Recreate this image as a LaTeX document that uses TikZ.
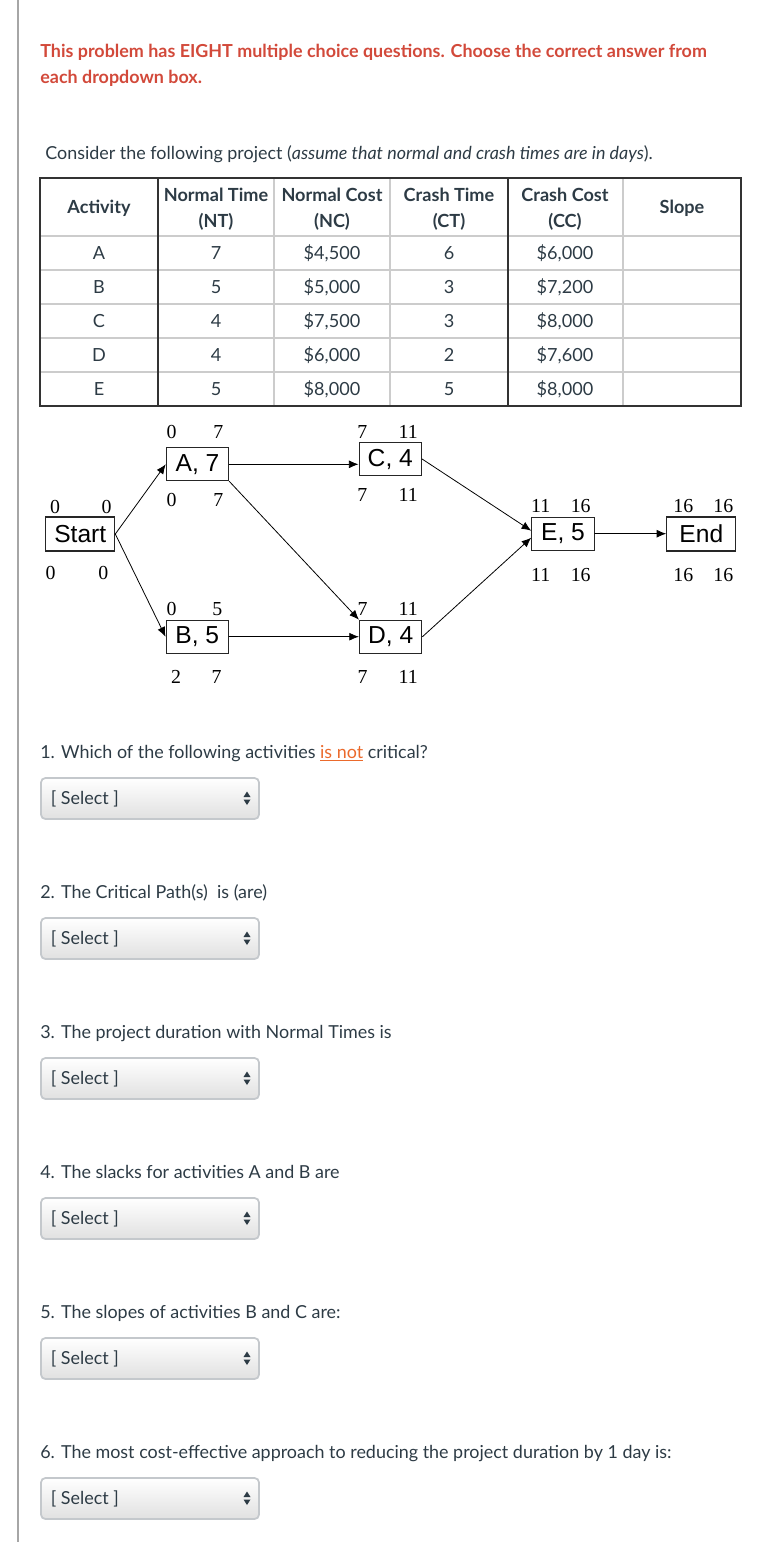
\documentclass[tikz,border=0pt]{standalone}
\usepackage{fontspec}
\setmainfont{Lato}
\newfontfamily\arialfont{Liberation Sans}
\newfontfamily\timesfont{Liberation Serif}
\usetikzlibrary{arrows.meta}

\begin{document}
\begin{tikzpicture}[x=0.02cm, y=-0.02cm, line cap=round,
  txt/.style={text=inkgray, inner sep=0pt, anchor=base west, font=\fontsize{10.2}{12}\selectfont},
  cell/.style={text=inkgray, inner sep=0pt, anchor=base, font=\fontsize{10.3}{12}\selectfont},
  hcell/.style={cell, font=\fontsize{10.3}{12}\selectfont\bfseries},
  tabline/.style={gridgray, line width=1.1pt},
  act/.style={draw=black!85, fill=white, line width=0.6pt, minimum width=1.25cm, minimum height=0.66cm,
              inner sep=0pt, font=\arialfont\fontsize{14}{14}\selectfont},
  wideact/.style={act, minimum width=1.38cm, minimum height=0.68cm},
  num/.style={inner sep=0pt, font=\timesfont\fontsize{11.3}{11}\selectfont},
  link/.style={-{Latex[length=5.5pt,width=4.5pt]}, line width=0.45pt},
  selbox/.style={draw=boxgray, line width=1pt, rounded corners=2.5pt, top color=white, bottom color=black!12,
                 minimum width=4.36cm, minimum height=0.82cm, inner sep=0pt}]
  \definecolor{inkgray}{HTML}{2D3B45}
  \definecolor{gridgray}{HTML}{CCCCCC}
  \definecolor{boxgray}{HTML}{C4C8CC}
  \definecolor{warnred}{HTML}{D2493A}
  \definecolor{notorange}{HTML}{EB6A2C}
  \useasboundingbox (0,0) rectangle (762,1542);
  % page rule
  \draw[black!35, line width=1.2pt] (18,0) -- (18,1542);
  % heading
  \node[txt, text=warnred, align=left, font=\fontsize{10.2}{14.74}\selectfont\bfseries] (intro) at (40,83)
    {This problem has EIGHT multiple choice questions. Choose the correct answer from\\each dropdown box.};
  \node[txt] (consider) at (45,159)
    {Consider the following project (\textit{assume that normal and crash times are in days}).};
  % table grid
  \foreach \y in {236,270,304,338,372} \draw[tabline] (40,\y) -- (741,\y);
  \foreach \x in {274,390,623} \draw[tabline] (\x,178) -- (\x,406);
  \foreach \x in {158,508} \draw[black!80, line width=0.6pt] (\x,178) -- (\x,406);
  \draw[black!80, line width=1.1pt] (40,178) rectangle (741,406);
  % table head
  \node[hcell] (h-act) at (99,213) {Activity};
  \node[hcell] (h-nt) at (216,201) {Normal Time};
  \node[hcell] (h-nt2) at (216,227) {(NT)};
  \node[hcell] (h-nc) at (332,201) {Normal Cost};
  \node[hcell] (h-nc2) at (332,227) {(NC)};
  \node[hcell] (h-ct) at (449,201) {Crash Time};
  \node[hcell] (h-ct2) at (449,227) {(CT)};
  \node[hcell] (h-cc) at (565,201) {Crash Cost};
  \node[hcell] (h-cc2) at (565,227) {(CC)};
  \node[hcell] (h-sl) at (682,213) {Slope};
  % table rows
  \foreach \act/\nt/\nc/\ct/\cc [count=\i] in {A/7/\$4{,}500/6/\$6{,}000, B/5/\$5{,}000/3/\$7{,}200,
      C/4/\$7{,}500/3/\$8{,}000, D/4/\$6{,}000/2/\$7{,}600, E/5/\$8{,}000/5/\$8{,}000} {
    \node[cell] (r\i-act) at (99,{225+34*\i}) {\act};
    \node[cell] (r\i-nt) at (216,{225+34*\i}) {\nt};
    \node[cell] (r\i-nc) at (332,{225+34*\i}) {\nc};
    \node[cell] (r\i-ct) at (449,{225+34*\i}) {\ct};
    \node[cell] (r\i-cc) at (565,{225+34*\i}) {\cc};
  }
  % network
  \node[wideact] (start) at (80.3,534) {Start};
  \node[act] (a) at (197.5,464.3) {A, 7};
  \node[act] (c) at (390.3,459) {C, 4};
  \node[act] (b) at (197.3,636.7) {B, 5};
  \node[act] (d) at (390.7,636.7) {D, 4};
  \node[act] (e) at (563,533.7) {E, 5};
  \node[wideact] (fin) at (701.3,534) {End};
  \draw[link] (start.east) -- (a.west);
  \draw[link] (start.east) -- (b.west);
  \draw[link] (a.east) -- (a.east -| c.west);
  \draw[link] (a.south east) -- (d.north west);
  \draw[link] (b.east) -- (b.east -| d.west);
  \draw[link] (c.east) -- ([yshift=0.06cm]e.west);
  \draw[link] (d.east) -- ([yshift=-0.08cm]e.west);
  \draw[link] (e.east) -- (e.east -| fin.west);
  % early / late times
  \node[num] (start-es) at (55,506.7) {0};
  \node[num] (start-ef) at (106.7,506.7) {0};
  \node[num] (start-ls) at (50.7,573.3) {0};
  \node[num] (start-lf) at (103.3,573.3) {0};
  \node[num] (a-es) at (171.7,431.7) {0};
  \node[num] (a-ef) at (218.3,431.7) {7};
  \node[num] (a-ls) at (171.7,500) {0};
  \node[num] (a-lf) at (218.3,500) {7};
  \node[num] (c-es) at (362.3,431.7) {7};
  \node[num] (c-ef) at (408.3,431.7) {11};
  \node[num] (c-ls) at (362.3,495) {7};
  \node[num] (c-lf) at (408.3,495) {11};
  \node[num] (b-es) at (171.7,609.3) {0};
  \node[num] (b-ef) at (217.3,609.3) {5};
  \node[num] (b-ls) at (176,677.3) {2};
  \node[num] (b-lf) at (216.7,677.3) {7};
  \node[num] (d-es) at (362.7,609.3) {7};
  \node[num] (d-ef) at (408.3,609.3) {11};
  \node[num] (d-ls) at (362.7,677.3) {7};
  \node[num] (d-lf) at (408.3,677.3) {11};
  \node[num] (e-es) at (540.7,506) {11};
  \node[num] (e-ef) at (580.7,506) {16};
  \node[num] (e-ls) at (540.7,575) {11};
  \node[num] (e-lf) at (580.7,575) {16};
  \node[num] (fin-es) at (683.3,506) {16};
  \node[num] (fin-ef) at (723.3,506) {16};
  \node[num] (fin-ls) at (683.3,575) {16};
  \node[num] (fin-lf) at (723.3,575) {16};
  % questions with dropdowns
  \foreach \q [count=\i] in {{1. Which of the following activities {\color{notorange}\underline{is not}} critical?},
      {2. The Critical Path(s)\ \ is (are)}, {3. The project duration with Normal Times is},
      {4. The slacks for activities A and B are}, {5. The slopes of activities B and C are:},
      {6. The most cost-effective approach to reducing the project duration by 1 day is:}} {
    \node[txt] (q\i) at (40,{618+140*\i}) {\q};
    \node[selbox] (sel\i) at (150,{658.5+140*\i}) {};
    \node[txt] (pick\i) at (50.5,{664+140*\i}) {[ Select ]};
    \fill[inkgray] (243.5,{657+140*\i}) -- (250.5,{657+140*\i}) -- (247,{651.5+140*\i}) -- cycle;
    \fill[inkgray] (243.5,{659.5+140*\i}) -- (250.5,{659.5+140*\i}) -- (247,{665+140*\i}) -- cycle;
  }
\end{tikzpicture}
\end{document}
